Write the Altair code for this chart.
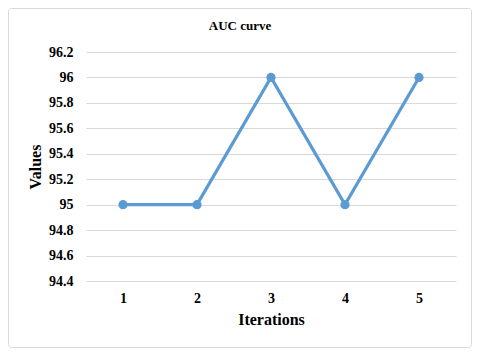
import altair as alt
import pandas as pd

iterations = [1, 2, 3, 4, 5]
values = [95, 95, 96, 95, 96]
y_ticks = [94.4, 94.6, 94.8, 95.0, 95.2, 95.4, 95.6, 95.8, 96.0, 96.2]
title_text = "AUC curve"

df = pd.DataFrame({"Iterations": iterations, "Values": values})

FONT = "Liberation Serif"
W, H = 370, 229

base = alt.Chart(df).encode(
    x=alt.X("Iterations:Q",
            scale=alt.Scale(domain=[0.5, 5.5], nice=False, zero=False),
            axis=alt.Axis(values=iterations, grid=False, domain=False, ticks=False,
                          labelFont=FONT, labelFontSize=14, labelFontWeight="bold",
                          labelColor="#000000", labelPadding=10,
                          title="Iterations", titleFont=FONT, titleFontSize=16,
                          titleFontWeight="bold", titleColor="#000000", titlePadding=6)),
    y=alt.Y("Values:Q",
            scale=alt.Scale(domain=[94.4, 96.2], nice=False, zero=False),
            axis=alt.Axis(values=y_ticks, format=".1~f", grid=True, gridColor="#d9d9d9",
                          gridWidth=1, domain=False, ticks=False,
                          labelFont=FONT, labelFontSize=14, labelFontWeight="bold",
                          labelColor="#000000", labelPadding=13,
                          title="Values", titleFont=FONT, titleFontSize=16,
                          titleFontWeight="bold", titleColor="#000000", titlePadding=5)),
)

line = base.mark_line(color="#5B9BD5", strokeWidth=3.2)
points = base.mark_circle(color="#5B9BD5", size=85, opacity=1)

one = alt.Data(values=[{"t": title_text}])
title = alt.Chart(one).mark_text(font=FONT, fontSize=13, fontWeight="bold",
                                 color="#000000", align="center", baseline="middle").encode(
    x=alt.value(154), y=alt.value(-26), text="t:N")

border = alt.Chart(one).mark_rect(fill="transparent", stroke="#d9d9d9", strokeWidth=1,
                                  cornerRadius=3).encode(
    x=alt.value(-77.5), x2=alt.value(385.5), y=alt.value(-43.5), y2=alt.value(295.5))

chart = alt.layer(border, line, points, title).properties(
    width=W, height=H,
    autosize=alt.AutoSizeParams(type="none"),
    padding={"left": 78, "top": 44, "right": 16, "bottom": 67},
    background="#ffffff",
).configure(font=FONT).configure_view(stroke=None)

chart.save("out.html", embed_options={"renderer": "svg", "actions": False})
